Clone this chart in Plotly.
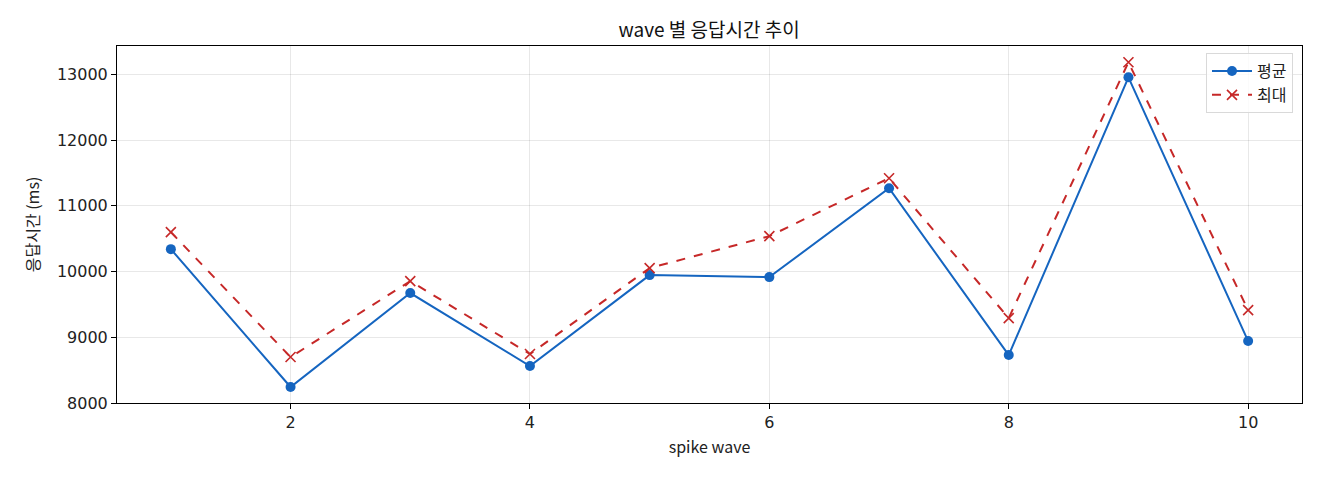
import plotly.graph_objects as go

waves = [1, 2, 3, 4, 5, 6, 7, 8, 9, 10]
avg_ms = [10340, 8243, 9672, 8562, 9945, 9915, 11267, 8729, 12954, 8942]
max_ms = [10599, 8699, 9854, 8745, 10052, 10538, 11419, 9292, 13182, 9413]
y_ticks = [8000, 9000, 10000, 11000, 12000, 13000]
x_ticks = [2, 4, 6, 8, 10]

kr_font = "Noto Sans CJK KR"
num_font = "DejaVu Sans"

fig = go.Figure()
fig.add_trace(go.Scatter(
    x=waves, y=avg_ms, name='평균', mode='lines+markers',
    line=dict(color='#1565C0', width=2),
    marker=dict(symbol='circle', size=10, color='#1565C0')
))
fig.add_trace(go.Scatter(
    x=waves, y=max_ms, name='최대', mode='lines+markers',
    line=dict(color='#C62828', width=2, dash='dash'),
    marker=dict(symbol='x-thin', size=10, color='#C62828', line=dict(color='#C62828', width=1.6))
))

axis_style = dict(
    showline=True, linecolor='black', linewidth=1, mirror=True,
    ticks='outside', ticklen=5, tickcolor='black',
    showgrid=True, gridcolor='rgba(0,0,0,0.09)', gridwidth=1,
    zeroline=False, tickfont=dict(family=num_font, size=16, color='#222'),
)

# page body has an 8px margin, so the figure is drawn slightly smaller
fig.update_layout(
    width=1304, height=464,
    margin=dict(l=109, r=10, t=38, b=69),
    paper_bgcolor='white', plot_bgcolor='white',
    font=dict(family=kr_font, size=16, color='#222'),
    title=dict(text='wave 별 응답시간 추이', x=0.5376, xanchor='center', y=0.9526, yanchor='middle',
               font=dict(family=kr_font, size=19, color='#111')),
    legend=dict(x=0.9924, y=0.98, xanchor='right', yanchor='top', itemwidth=40,
                bordercolor='#d9d9d9', borderwidth=1, bgcolor='rgba(255,255,255,0.8)',
                font=dict(family=kr_font, size=16)),
)
fig.update_xaxes(range=[0.55, 10.45], tickvals=x_ticks, ticktext=[str(v) for v in x_ticks],
                 title=dict(text='spike wave', font=dict(family=kr_font, size=16), standoff=10), **axis_style)
fig.update_yaxes(range=[8000, 13430], tickvals=y_ticks, ticktext=[str(v) for v in y_ticks],
                 title=dict(text='응답시간 (ms)', font=dict(family=kr_font, size=16), standoff=13), **axis_style)

fig.write_html("out.html")
